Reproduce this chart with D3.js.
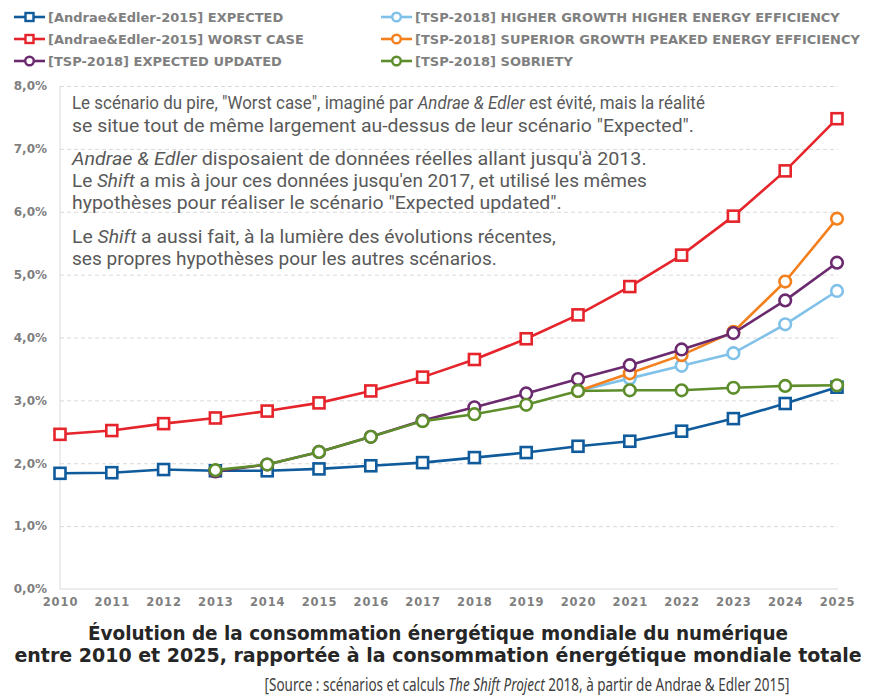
<!DOCTYPE html>
<html><head><meta charset="utf-8">
<script src="https://cdn.jsdelivr.net/npm/d3@7"></script>
<style>
html,body{margin:0;padding:0;background:#fff;}
svg{display:block;}
</style></head>
<body>
<script>
// ---- DATA ----
const years = [2010,2011,2012,2013,2014,2015,2016,2017,2018,2019,2020,2021,2022,2023,2024,2025];
const yTicks = [0,1,2,3,4,5,6,7,8];
const expected       = [1.84,1.85,1.90,1.88,1.88,1.91,1.96,2.01,2.09,2.17,2.27,2.35,2.51,2.71,2.95,3.21];
const worstCase      = [2.46,2.52,2.63,2.72,2.83,2.96,3.15,3.37,3.65,3.98,4.36,4.81,5.31,5.93,6.65,7.48];
const higherGrowth   = [null,null,null,null,null,null,null,null,null,null,3.15,3.35,3.55,3.75,4.21,4.74];
const superiorGrowth = [null,null,null,null,null,null,null,null,null,null,3.15,3.43,3.72,4.09,4.89,5.89];
const expectedUpd    = [null,null,null,1.87,1.98,2.18,2.42,2.68,2.89,3.11,3.34,3.56,3.81,4.07,4.59,5.19];
const sobriety       = [null,null,null,1.89,1.98,2.18,2.42,2.67,2.78,2.93,3.15,3.16,3.16,3.20,3.23,3.24];
const seriesNames = [
  "[Andrae&Edler-2015] EXPECTED",
  "[TSP-2018] HIGHER GROWTH HIGHER ENERGY EFFICIENCY",
  "[Andrae&Edler-2015] WORST CASE",
  "[TSP-2018] SUPERIOR GROWTH PEAKED ENERGY EFFICIENCY",
  "[TSP-2018] EXPECTED UPDATED",
  "[TSP-2018] SOBRIETY"
];
const seriesValues = [expected, higherGrowth, worstCase, superiorGrowth, expectedUpd, sobriety];
const seriesColors = ["#0f5b9c","#80c1ea","#e5242b","#f3801d","#6c2a6e","#5e8e2c"];
const seriesMarkers = ["square","circle","square","circle","circle","circle"];

const titleLines = [
  "Évolution de la consommation énergétique mondiale du numérique",
  "entre 2010 et 2025, rapportée à la consommation énergétique mondiale totale"
];
const sourceParts = [["[Source : scénarios et calculs ",false],["The Shift Project",true],[" 2018, à partir de Andrae & Edler 2015]",false]];
const noteLines = [
  [["Le scénario du pire, \"Worst case\", imaginé par ",false],["Andrae & Edler",true],[" est évité, mais la réalité",false]],
  [["se situe tout de même largement au-dessus de leur scénario \"Expected\".",false]],
  [["Andrae & Edler",true],[" disposaient de données réelles allant jusqu'à 2013.",false]],
  [["Le ",false],["Shift",true],[" a mis à jour ces données jusqu'en 2017, et utilisé les mêmes",false]],
  [["hypothèses pour réaliser le scénario \"Expected updated\".",false]],
  [["Le ",false],["Shift",true],[" a aussi fait, à la lumière des évolutions récentes,",false]],
  [["ses propres hypothèses pour les autres scénarios.",false]]
];

// ---- LAYOUT ----
const W = 876, H = 698;
const svg = d3.select("body").append("svg").attr("width", W).attr("height", H);
const x = d3.scaleLinear().domain([2010, 2025]).range([60, 837]);
const y = d3.scaleLinear().domain([0, 8]).range([589, 86]);

// horizontal squeeze of a text so that it spans a given width
function fitText(t, px, py, width) {
  const n = t.node().getComputedTextLength();
  const k = width / n;
  t.attr("x", 0).attr("y", 0).attr("transform", `translate(${px},${py}) scale(${k},1)`);
}

// gridlines
svg.append("g").attr("transform","translate(60,0)")
  .call(d3.axisLeft(y).tickValues(yTicks.slice(1)).tickSize(-778).tickFormat(""))
  .call(g => g.select(".domain").remove())
  .call(g => g.selectAll("line").attr("stroke","#d9d9d9").attr("stroke-dasharray","4,3").attr("stroke-width",1));

// axis lines
svg.append("line").attr("x1",60).attr("x2",60).attr("y1",y(8)).attr("y2",y(0)).attr("stroke","#d9d9d9");
svg.append("line").attr("x1",60).attr("x2",838).attr("y1",y(0)).attr("y2",y(0)).attr("stroke","#d9d9d9");

// y axis labels
svg.append("g").attr("transform","translate(60,0)")
  .call(d3.axisLeft(y).tickValues(yTicks).tickSize(0).tickPadding(13)
        .tickFormat(d => d.toFixed(1).replace(".", ",") + "%"))
  .call(g => g.select(".domain").remove())
  .call(g => g.selectAll("text").attr("fill","#7f7f7f").attr("font-family","'DejaVu Sans'")
        .attr("font-weight","bold").attr("font-size","12px"));

// x axis labels
svg.append("g").attr("transform",`translate(0,${y(0)})`)
  .call(d3.axisBottom(x).tickValues(years).tickSize(0).tickPadding(9).tickFormat(d3.format("d")))
  .call(g => g.select(".domain").remove())
  .call(g => g.selectAll("text").attr("fill","#7f7f7f").attr("font-family","'DejaVu Sans'")
        .attr("font-weight","bold").attr("font-size","11.5px").attr("letter-spacing","0.9px"));

// annotation text
const noteY = [109, 131.5, 165, 187, 209, 243, 265];
const noteW = [633, 622, 575, 575, 490, 484, 425];
noteLines.forEach((parts, i) => {
  const t = svg.append("text")
    .attr("font-family","Roboto").attr("font-size","18.6px").attr("fill","#595959");
  parts.forEach(p => t.append("tspan").text(p[0]).attr("font-style", p[1] ? "italic" : "normal"));
  fitText(t, 72, noteY[i], noteW[i]);
});

// series
const line = d3.line().defined(d => d.v != null).x(d => x(d.year)).y(d => y(d.v));
seriesValues.forEach((vals, i) => {
  const pts = years.map((yr, k) => ({year: yr, v: vals[k]}));
  const g = svg.append("g");
  g.append("path").datum(pts).attr("d", line).attr("fill","none")
    .attr("stroke", seriesColors[i]).attr("stroke-width", 2.6).attr("stroke-linejoin","round");
  const dp = pts.filter(d => d.v != null);
  if (seriesMarkers[i] === "square") {
    g.selectAll("rect").data(dp).join("rect")
      .attr("x", d => x(d.year) - 5.5).attr("y", d => y(d.v) - 5.5)
      .attr("width", 11).attr("height", 11)
      .attr("fill","#fff").attr("stroke", seriesColors[i]).attr("stroke-width", 2.6);
  } else {
    g.selectAll("circle").data(dp).join("circle")
      .attr("cx", d => x(d.year)).attr("cy", d => y(d.v)).attr("r", 5.8)
      .attr("fill","#fff").attr("stroke", seriesColors[i]).attr("stroke-width", 2.6);
  }
});

// legend
const legX = [14, 381], legY = [17, 39, 61];
seriesNames.forEach((name, i) => {
  const col = i % 2, row = Math.floor(i / 2);
  const g = svg.append("g").attr("transform", `translate(${legX[col]},${legY[row]})`);
  g.append("line").attr("x1",0).attr("x2",31).attr("stroke", seriesColors[i]).attr("stroke-width",2.6);
  if (seriesMarkers[i] === "square") {
    g.append("rect").attr("x",11.5).attr("y",-4).attr("width",8).attr("height",8)
      .attr("fill","#fff").attr("stroke",seriesColors[i]).attr("stroke-width",2.4);
  } else {
    g.append("circle").attr("cx",15.5).attr("cy",0).attr("r",4.3)
      .attr("fill","#fff").attr("stroke",seriesColors[i]).attr("stroke-width",2.4);
  }
  g.append("text").attr("x", 34).attr("y", 4.7).text(name)
    .attr("font-family","'DejaVu Sans'").attr("font-weight","bold").attr("font-size","13px")
    .attr("fill","#808080");
});

// title
const titleY = [640, 662];
const titleW = [700, 847];
titleLines.forEach((s, i) => {
  const t = svg.append("text").attr("text-anchor","middle")
    .attr("font-family","'DejaVu Sans Condensed','DejaVu Sans'").attr("font-weight","bold")
    .attr("font-size","18.8px").attr("fill","#262626").text(s);
  fitText(t, W/2, titleY[i], titleW[i]);
});
const src = svg.append("text").attr("text-anchor","middle")
  .attr("font-family","'Noto Sans'").attr("font-size","18.5px").attr("fill","#404040");
sourceParts.forEach(p => src.append("tspan").text(p[0]).attr("font-style", p[1] ? "italic" : "normal"));
fitText(src, 527, 691, 525);
</script>
</body></html>
